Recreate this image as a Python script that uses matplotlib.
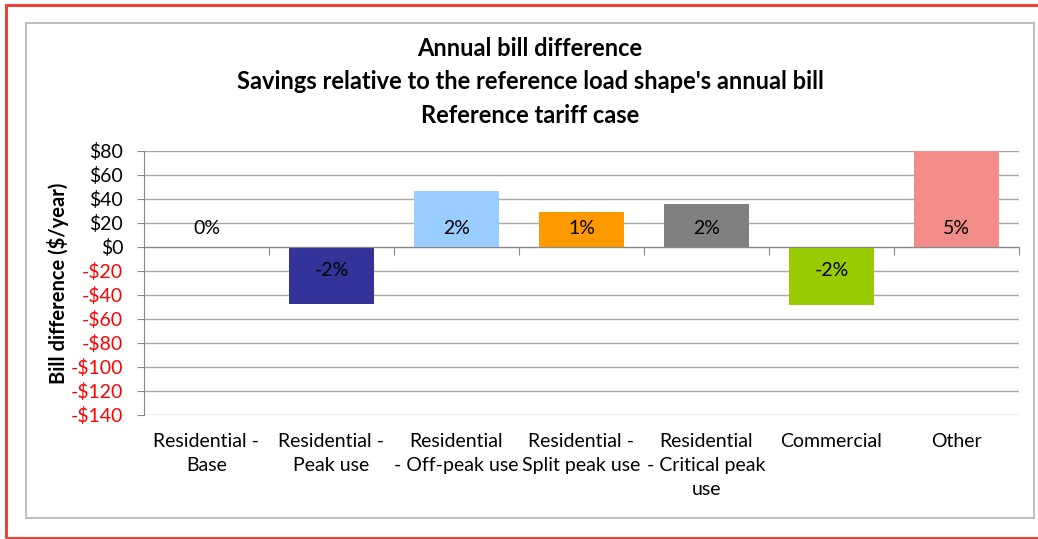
import matplotlib.pyplot as plt
from matplotlib.patches import Rectangle
from matplotlib.ticker import FuncFormatter, MultipleLocator

plt.rcParams['font.family'] = ['Lato', 'DejaVu Sans']

# ---- data ----
categories = ["Residential -\nBase", "Residential -\nPeak use", "Residential\n- Off-peak use",
              "Residential -\nSplit peak use", "Residential\n- Critical peak\nuse",
              "Commercial", "Other"]
savings = [0, -47.5, 47, 29.5, 36, -48.5, 80]
pct_labels = ["0%", "-2%", "2%", "1%", "2%", "-2%", "5%"]
colors = ["#FFFFFF", "#333399", "#99CCFF", "#FF9900", "#808080", "#99CC00", "#F28C88"]
titles = ["Annual bill difference",
          "Savings relative to the reference load shape's annual bill",
          "Reference tariff case"]

fig = plt.figure(figsize=(10.38, 5.39), dpi=100)
W, H = 1038, 539

# ---- frames ----
fig.patches.append(Rectangle((6 / W, 1 - 538 / H), 1.2, (538 - 5) / H, transform=fig.transFigure,
                             fill=False, edgecolor="#E8463A", linewidth=2.2, zorder=0))
fig.patches.append(Rectangle((26 / W, 1 - 518 / H), (1034 - 26) / W, (518 - 23) / H,
                             transform=fig.transFigure, fill=False, edgecolor="#BFBFBF",
                             linewidth=1.5, zorder=0))

ax = fig.add_axes([144 / W, 1 - 415 / H, (1019 - 144) / W, (415 - 151) / H])
x = list(range(len(categories)))
ax.bar(x, savings, width=0.68, color=colors, zorder=3)

ax.set_xlim(-0.5, len(categories) - 0.5)
ax.set_ylim(-140, 80)
ax.yaxis.set_major_locator(MultipleLocator(20))
ax.yaxis.set_major_formatter(FuncFormatter(lambda v, p: f"${v:.0f}" if v >= 0 else f"-${-v:.0f}"))
ax.grid(axis="y", color="#A6A6A6", linewidth=1, zorder=0)
ax.tick_params(axis="y", length=5, color="#888888", pad=10, labelsize=14)
for lbl in ax.get_yticklabels():
    if "-" in lbl.get_text():
        lbl.set_color("#FF0000")

for s in ["top", "right"]:
    ax.spines[s].set_visible(False)
ax.spines["left"].set_color("#888888")
ax.spines["bottom"].set_position(("data", 0))
ax.spines["bottom"].set_color("#888888")
ax.spines["bottom"].set_zorder(4)
ax.set_xticks([i + 0.5 for i in x])
ax.set_xticklabels([])
ax.tick_params(axis="x", length=6, color="#888888")

# category labels below the plot
for i, c in enumerate(categories):
    ax.text(i, -0.07, c, transform=ax.get_xaxis_transform(), ha="center", va="top",
            fontsize=14, linespacing=1.5)

# percentage labels near the base of each bar
for i, (v, t) in enumerate(zip(savings, pct_labels)):
    off = 18 if v >= 0 else -23
    ax.annotate(t, (i, 0), xytext=(0, off), textcoords="offset pixels",
                ha="center", va="center", fontsize=14, zorder=5)

ax.set_ylabel("Bill difference ($/year)", fontsize=14.5, fontweight="bold", labelpad=1)

for k, t in enumerate(titles):
    fig.text(530 / W, 1 - (48 + 33.5 * k) / H, t, ha="center", va="center",
             fontsize=17, fontweight="bold")

fig.savefig("out.png", dpi=100)
